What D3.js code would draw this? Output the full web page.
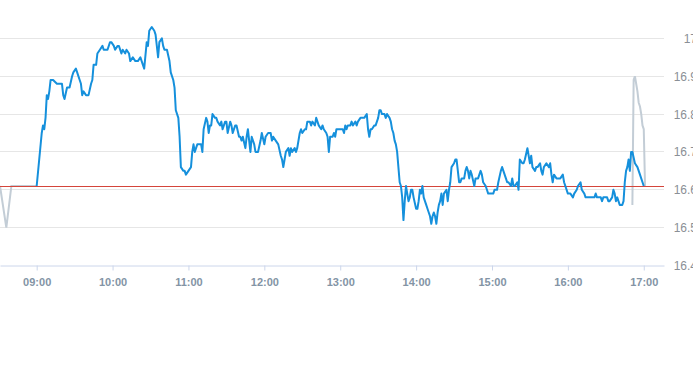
<!DOCTYPE html>
<html>
<head>
<meta charset="utf-8">
<script src="https://cdn.jsdelivr.net/npm/d3@7"></script>
<style>
  body { margin: 0; background: #fff; }
  svg { display: block; font-family: "Liberation Sans", Arial, sans-serif; }
</style>
</head>
<body>
<script>
// intraday prices, 09:00 - 17:00
var times = [
  '09:00','09:02','09:04','09:05','09:06','09:07','09:08','09:09','09:10','09:11','09:13','09:16','09:19','09:20','09:21','09:22','09:24','09:26','09:28','09:29',
  '09:31','09:32','09:34','09:35','09:36','09:37','09:39','09:41','09:43','09:44','09:45','09:47','09:48','09:50','09:52','09:53','09:55','09:56','09:58','09:59',
  '10:01','10:02','10:04','10:05','10:07','10:08','10:10','10:11','10:13','10:14','10:16','10:18','10:20','10:22','10:23','10:25','10:27','10:28','10:29','10:31',
  '10:33','10:34','10:35','10:36','10:37','10:39','10:40','10:41','10:42','10:43','10:45','10:46','10:48','10:49','10:50','10:52','10:53','10:54','10:56','10:57',
  '10:58','11:00','11:02','11:03','11:04','11:05','11:07','11:08','11:10','11:11','11:12','11:14','11:15','11:16','11:17','11:18','11:19','11:21','11:22','11:23',
  '11:25','11:26','11:27','11:29','11:30','11:31','11:33','11:34','11:35','11:37','11:38','11:40','11:41','11:42','11:43','11:45','11:46','11:47','11:48','11:49',
  '11:50','11:52','11:53','11:55','11:57','11:58','12:00','12:01','12:03','12:05','12:06','12:07','12:09','12:11','12:13','12:14','12:15','12:16','12:17','12:19',
  '12:20','12:21','12:22','12:24','12:25','12:26','12:28','12:29','12:30','12:32','12:33','12:34','12:36','12:37','12:38','12:40','12:41','12:42','12:43','12:45',
  '12:46','12:47','12:49','12:50','12:51','12:52','12:54','12:55','12:56','12:57','12:59','13:00','13:02','13:03','13:04','13:05','13:06','13:08','13:09','13:10',
  '13:12','13:13','13:14','13:16','13:17','13:18','13:19','13:21','13:22','13:23','13:24','13:25','13:27','13:28','13:29','13:30','13:31','13:32','13:33','13:35',
  '13:36','13:37','13:39','13:40','13:41','13:42','13:43','13:44','13:45','13:46','13:47','13:48','13:49','13:50','13:51','13:52','13:53','13:54','13:55','13:56',
  '13:57','13:58','14:00','14:01','14:02','14:03','14:04','14:05','14:06','14:08','14:09','14:10','14:11','14:12','14:13','14:14','14:15','14:16','14:17','14:18',
  '14:19','14:20','14:21','14:22','14:24','14:25','14:26','14:27','14:28','14:30','14:31','14:32','14:33','14:34','14:35','14:36','14:38','14:39','14:40','14:41',
  '14:42','14:43','14:44','14:46','14:47','14:49','14:51','14:52','14:53','14:55','14:56','14:57','14:59','15:01','15:02','15:04','15:05','15:07','15:08','15:09',
  '15:11','15:12','15:13','15:15','15:16','15:17','15:18','15:20','15:21','15:22','15:24','15:25','15:26','15:28','15:29','15:30','15:31','15:32','15:34','15:35',
  '15:36','15:38','15:39','15:40','15:41','15:43','15:45','15:46','15:47','15:48','15:49','15:51','15:52','15:54','15:56','15:57','15:58','16:00','16:02','16:04',
  '16:05','16:07','16:08','16:10','16:11','16:13','16:14','16:16','16:18','16:19','16:21','16:22','16:23','16:25','16:26','16:27','16:28','16:29','16:31','16:32',
  '16:33','16:35','16:36','16:37','16:38','16:39','16:40','16:41','16:43','16:44','16:45','16:46','16:47','16:48','16:49','16:50','16:51','16:53','16:55','16:57',
  '17:00'
];
var prices = [
  16.61,16.68,16.75,16.77,16.76,16.79,16.85,16.84,16.86,16.89,16.89,16.88,16.88,16.88,16.85,16.84,16.87,16.87,16.90,16.91,
  16.92,16.91,16.89,16.88,16.85,16.86,16.85,16.85,16.88,16.89,16.93,16.93,16.96,16.97,16.98,16.97,16.97,16.97,16.99,16.99,
  16.98,16.97,16.98,16.98,16.96,16.97,16.96,16.97,16.96,16.94,16.95,16.94,16.94,16.95,16.94,16.92,16.99,16.98,17.02,17.03,
  17.02,17.01,16.98,16.95,16.99,17.00,16.98,16.97,16.97,16.97,16.94,16.91,16.89,16.87,16.81,16.79,16.74,16.66,16.65,16.65,
  16.64,16.65,16.66,16.70,16.72,16.70,16.72,16.72,16.72,16.70,16.76,16.79,16.78,16.75,16.77,16.77,16.80,16.79,16.79,16.78,
  16.77,16.78,16.76,16.78,16.78,16.75,16.78,16.77,16.75,16.77,16.77,16.74,16.74,16.73,16.74,16.71,16.74,16.76,16.73,16.70,
  16.74,16.72,16.70,16.70,16.73,16.75,16.72,16.74,16.75,16.75,16.73,16.74,16.73,16.72,16.69,16.68,16.66,16.68,16.70,16.71,
  16.69,16.71,16.70,16.71,16.70,16.71,16.75,16.76,16.75,16.76,16.76,16.78,16.78,16.77,16.78,16.77,16.79,16.78,16.77,16.76,
  16.77,16.76,16.75,16.74,16.70,16.74,16.74,16.75,16.74,16.76,16.76,16.76,16.76,16.75,16.77,16.76,16.77,16.77,16.78,16.77,
  16.78,16.77,16.78,16.79,16.79,16.79,16.79,16.80,16.76,16.74,16.76,16.76,16.77,16.77,16.78,16.79,16.81,16.81,16.80,16.80,
  16.79,16.80,16.79,16.78,16.76,16.75,16.73,16.72,16.70,16.66,16.62,16.61,16.58,16.52,16.57,16.61,16.59,16.57,16.58,16.60,
  16.60,16.58,16.55,16.55,16.57,16.60,16.59,16.61,16.58,16.56,16.55,16.54,16.53,16.51,16.53,16.54,16.53,16.51,16.54,16.56,
  16.57,16.59,16.56,16.59,16.60,16.57,16.60,16.62,16.66,16.67,16.68,16.68,16.65,16.62,16.62,16.63,16.63,16.65,16.66,16.65,
  16.63,16.65,16.64,16.61,16.63,16.63,16.65,16.64,16.62,16.61,16.60,16.59,16.59,16.59,16.60,16.60,16.62,16.65,16.66,16.65,
  16.63,16.62,16.62,16.61,16.63,16.61,16.61,16.62,16.60,16.68,16.67,16.67,16.68,16.71,16.69,16.67,16.69,16.66,16.65,16.66,
  16.66,16.67,16.65,16.64,16.66,16.67,16.66,16.67,16.64,16.62,16.64,16.63,16.63,16.63,16.64,16.62,16.61,16.59,16.59,16.58,
  16.59,16.60,16.61,16.62,16.60,16.59,16.58,16.58,16.58,16.58,16.58,16.59,16.58,16.58,16.58,16.57,16.58,16.58,16.58,16.57,
  16.57,16.58,16.60,16.59,16.57,16.58,16.57,16.56,16.56,16.57,16.62,16.65,16.66,16.68,16.65,16.70,16.70,16.67,16.66,16.64,
  16.61
];

// pre-open and closing auction (grey)
var preTimes = ['08:31','08:36','08:40','09:00'];
var prePrices = [16.61, 16.50, 16.61, 16.61];
var postTimes = ['16:51','16:52','16:53','16:54','16:55','16:56','16:57','16:58','16:59','17:00','17:01'];
var postPrices = [16.56, 16.89, 16.90, 16.88, 16.86, 16.83, 16.82, 16.80, 16.77, 16.76, 16.61];

var prevClose = 16.61;
var yTicks = [16.4, 16.5, 16.6, 16.7, 16.8, 16.9, 17];

var w = 693, h = 365;
var plotRight = 664;
var parse = d3.timeParse('%H:%M');

var svg = d3.select('body').append('svg')
  .attr('width', w)
  .attr('height', h);

var x = d3.scaleTime()
  .domain([parse('08:31'), parse('17:16')])
  .range([0, plotRight]);

var y = d3.scaleLinear()
  .domain([16.4, 17.1])
  .range([265.5, 0.5]);

var crisp = v => Math.floor(y(v)) + 0.5;

// grid
svg.append('g').selectAll('line')
  .data(yTicks.slice(1))
  .enter()
  .append('line')
  .attr('x1', 0)
  .attr('x2', plotRight)
  .attr('y1', crisp)
  .attr('y2', crisp)
  .attr('stroke', '#e6e6e6')
  .attr('stroke-width', 1);

// y labels
svg.append('g').selectAll('text')
  .data(yTicks)
  .enter()
  .append('text')
  .attr('x', 697)
  .attr('y', d => crisp(d))
  .attr('dy', '0.35em')
  .attr('text-anchor', 'end')
  .attr('fill', '#8a8f96')
  .attr('font-size', 12)
  .text(d => d3.format('')(d));

// x axis
var xAxis = d3.axisBottom(x)
  .ticks(d3.timeHour.every(1))
  .tickFormat(d3.timeFormat('%H:%M'))
  .tickSize(5)
  .tickSizeOuter(0);

var gx = svg.append('g')
  .attr('transform', 'translate(0,' + crisp(16.4) + ')')
  .call(xAxis);
gx.select('.domain').attr('stroke', '#ccd6eb');
gx.selectAll('.tick line').attr('stroke', '#ccd6eb');
gx.selectAll('.tick text')
  .attr('fill', '#8394a5')
  .attr('font-size', 11)
  .attr('font-weight', 'bold')
  .attr('font-family', '"Liberation Sans", Arial, sans-serif')
  .attr('dy', '1.1em');

var line = d3.line()
  .x(d => x(d[0]))
  .y(d => y(d[1]));

var zip = (ts, ps) => ts.map((t, i) => [parse(t), ps[i]]);

svg.append('path')
  .datum(zip(preTimes, prePrices))
  .attr('d', line)
  .attr('fill', 'none')
  .attr('stroke', '#c3cdd6')
  .attr('stroke-width', 2);

svg.append('path')
  .datum(zip(postTimes, postPrices))
  .attr('d', line)
  .attr('fill', 'none')
  .attr('stroke', '#c3cdd6')
  .attr('stroke-width', 2);

// previous close
svg.append('line')
  .attr('x1', 0)
  .attr('x2', plotRight)
  .attr('y1', crisp(prevClose))
  .attr('y2', crisp(prevClose))
  .attr('stroke', '#d4453b')
  .attr('stroke-width', 1);

svg.append('path')
  .datum(zip(times, prices))
  .attr('d', line)
  .attr('fill', 'none')
  .attr('stroke', '#1590dc')
  .attr('stroke-width', 2)
  .attr('stroke-linejoin', 'round');
</script>
</body>
</html>
